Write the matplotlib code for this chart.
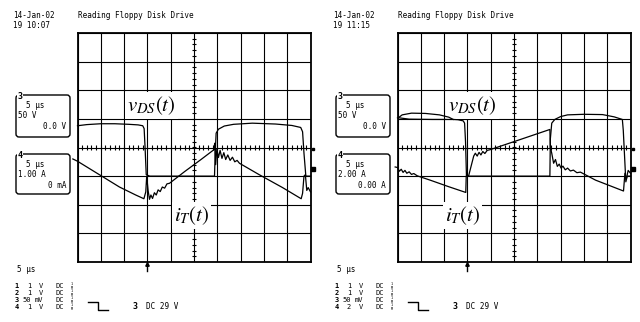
import matplotlib.pyplot as plt
from matplotlib.patches import FancyBboxPatch
import numpy as np

plt.rcParams['mathtext.fontset'] = 'stix'
MONO = 'DejaVu Sans Mono'

# Ecrã do osciloscópio em divisões: x 0..10, y -4..4
# Painel esquerdo (19 10:07)
v1_x = [0.0, 0.4, 1.0, 1.6, 2.2, 2.6, 2.8, 2.86, 2.9, 2.95, 3.1, 4.5, 5.88, 5.91, 5.95,
        6.05, 6.3, 6.7, 7.5, 8.5, 9.2, 9.58, 9.66, 9.72, 9.8, 10.0]
v1_y = [0.76, 0.80, 0.83, 0.83, 0.81, 0.79, 0.76, 0.66, 0.0, -0.95, -1.0, -1.0, -1.0, -0.2, 0.5,
        0.64, 0.75, 0.81, 0.85, 0.82, 0.77, 0.70, 0.55, -0.2, -1.0, -1.0]
i1_x = [-0.2, 0.0, 1.0, 1.8, 2.5, 2.85, 2.93, 2.97, 3.03, 3.09, 3.15, 3.22, 3.3, 3.38, 3.46,
        3.55, 3.64, 3.74, 3.84, 3.95, 4.6, 5.3, 5.85, 5.89, 5.93, 5.98, 6.05, 6.12, 6.2, 6.28,
        6.36, 6.45, 6.55, 6.65, 6.75, 6.85, 6.95, 7.8, 8.8, 9.6, 9.66, 9.72, 9.78, 9.84, 9.9, 10.0]
i1_y = [-0.40, -0.48, -0.98, -1.38, -1.66, -1.79, -1.55, -1.0, -1.5, -1.81, -1.66, -1.78, -1.58,
        -1.66, -1.48, -1.54, -1.38, -1.42, -1.27, -1.25, -0.84, -0.42, -0.08, 0.15, -0.6, -0.05,
        -0.35, -0.1, -0.38, -0.18, -0.42, -0.26, -0.45, -0.34, -0.5, -0.45, -0.55, -0.95, -1.4,
        -1.79, -1.6, -1.0, -0.95, -1.5, -1.4, -1.55]

# Painel direito (19 11:15)
v2_x = [0.0, 0.04, 0.5, 1.5, 2.39, 2.6, 2.82, 2.88, 2.92, 2.96, 3.1, 4.5, 6.54, 6.56, 6.62,
        6.75, 7.0, 7.3, 8.0, 8.8, 9.3, 9.65, 9.69, 9.8, 9.86, 10.0]
v2_y = [1.03, 1.04, 0.99, 0.98, 0.98, 0.97, 0.93, 0.85, 0.2, -1.0, -1.0, -1.0, -1.0, 0.3, 0.85,
        0.98, 1.08, 1.14, 1.16, 1.15, 1.07, 0.98, 0.6, -1.2, -1.0, -1.0]
v2_loop_x = [0.04, 0.2, 0.6, 1.2, 1.8, 2.2, 2.39]
v2_loop_y = [1.04, 1.14, 1.20, 1.19, 1.14, 1.06, 0.98]
i2_x = [-0.1, 0.0, 0.08, 0.16, 0.24, 0.32, 0.4, 0.5, 0.6, 0.7, 0.85, 1.4, 2.2, 2.93, 2.95,
        3.05, 3.27, 3.34, 3.42, 3.5, 3.58, 3.66, 3.75, 3.85, 3.96, 5.2, 6.54, 6.56, 6.62, 6.7,
        6.78, 6.86, 6.94, 7.02, 7.1, 7.2, 7.3, 7.42, 7.55, 7.7, 7.85, 8.5, 9.7, 9.76, 9.82, 9.9, 10.0]
i2_y = [-0.68, -0.70, -0.83, -0.76, -0.87, -0.80, -0.90, -0.85, -0.94, -0.91, -0.99, -1.14,
        -1.37, -1.57, -1.0, -1.0, -0.30, -0.20, -0.30, -0.17, -0.26, -0.14, -0.21, -0.10, -0.08,
        0.26, 0.63, 0.0, -0.2, -0.55, -0.42, -0.66, -0.58, -0.72, -0.65, -0.78, -0.72, -0.82,
        -0.79, -0.88, -0.86, -1.14, -1.52, -0.9, -1.1, -0.8, -0.9]

trig_x = [2.98, 2.97]
labels_v = ['$v_{DS}(t)$', '$v_{DS}(t)$']
labels_i = ['$i_T(t)$', '$i_T(t)$']
datas = ['14-Jan-02', '14-Jan-02']
horas = ['19 10:07', '19 11:15']
titulo = 'Reading Floppy Disk Drive'
box_v = [['5 µs', '50 V', '0.0 V'], ['5 µs', '50 V', '0.0 V']]
box_i = [['5 µs', '1.00 A', '0 mA'], ['5 µs', '2.00 A', '0.00 A']]
canais = ['1', '2', '3', '4']
ampl = [['1', '1', '50', '1'], ['1', '1', '50', '2']]
unid = ['V', 'V', 'mV', 'V']
trig_txt = 'DC 29 V'

W, H = 640, 322
fig = plt.figure(figsize=(W / 100, H / 100), dpi=100)

paineis = [
    dict(x0=77.5, v=(v1_x, v1_y), i=(i1_x, i1_y), loop=None),
    dict(x0=397.5, v=(v2_x, v2_y), i=(i2_x, i2_y), loop=(v2_loop_x, v2_loop_y)),
]
lab_v_pos = [(3.18, 1.47), (3.22, 1.47)]
lab_i_pos = [(4.9, -2.37), (2.79, -2.37)]

for k, p in enumerate(paineis):
    ax = fig.add_axes([p['x0'] / W, (H - 262) / H, 233 / W, 229 / H])
    ax.set_xlim(0, 10)
    ax.set_ylim(-4, 4)
    ax.set_xticks(range(11))
    ax.set_yticks(range(-4, 5))
    ax.tick_params(length=0, labelbottom=False, labelleft=False)
    ax.grid(True, color='black', lw=0.8, zorder=1)
    for s in ax.spines.values():
        s.set_linewidth(1.3)
    # marcas do eixo central
    ax.vlines(np.arange(0.2, 10, 0.2), -0.07, 0.07, color='black', lw=0.8, zorder=1)
    ax.hlines(np.arange(-3.8, 4, 0.2), 4.9, 5.1, color='black', lw=0.8, zorder=1)

    ax.plot(*p['v'], color='black', lw=0.9, zorder=3, clip_on=False)
    if p['loop'] is not None:
        ax.plot(*p['loop'], color='black', lw=0.9, zorder=3)
    ax.plot(*p['i'], color='black', lw=0.9, zorder=3, clip_on=False)

    ax.text(*lab_v_pos[k], labels_v[k], fontsize=15, ha='center', va='center', zorder=2,
            bbox=dict(facecolor='white', edgecolor='none', pad=1.5))
    ax.text(*lab_i_pos[k], labels_i[k], fontsize=15, ha='center', va='center', zorder=2,
            bbox=dict(facecolor='white', edgecolor='none', pad=1.5))

    # trigger e marcadores de canal
    ax.plot([trig_x[k], trig_x[k]], [-4, -4.3], color='black', lw=1, clip_on=False)
    ax.plot(trig_x[k], -4.08, marker='^', ms=2.5, color='black', clip_on=False)
    ax.plot(10.12, -0.05, marker='s', ms=2, color='black', clip_on=False)
    ax.plot(10.12, -0.75, marker='s', ms=3.5, color='black', clip_on=False)

# camada de texto em pixeis
ov = fig.add_axes([0, 0, 1, 1])
ov.set_xlim(0, W)
ov.set_ylim(H, 0)
ov.axis('off')
ov.patch.set_alpha(0)

fs = 5.5
fr = 5
for k, dx in enumerate([0, 320]):
    ov.text(13 + dx, 15, datas[k], family=MONO, fontsize=fs, va='center')
    ov.text(13 + dx, 25, horas[k], family=MONO, fontsize=fs, va='center')
    ov.text(78 + dx, 15, titulo, family=MONO, fontsize=fs, va='center')

    bx0, bx1 = 16 + dx, 70 + dx
    for (yt, yb), txt, ch in [((95, 137), box_v[k], '3'), ((154, 194), box_i[k], '4')]:
        ov.add_patch(FancyBboxPatch((bx0, yt), bx1 - bx0, yb - yt,
                                    boxstyle='round,pad=0,rounding_size=3',
                                    fc='none', ec='black', lw=1))
        ov.text(bx0 + 4, yt + 1, ch, family=MONO, fontsize=6, fontweight='bold',
                ha='center', va='center',
                bbox=dict(facecolor='white', edgecolor='none', pad=0.3))
        ov.text(bx0 + 10, yt + 10, txt[0], family=MONO, fontsize=fs, va='center')
        ov.text(bx0 + 2, yt + 20, txt[1], family=MONO, fontsize=fs, va='center')
        ov.text(bx1 - 4, yt + 31, txt[2], family=MONO, fontsize=fs, va='center', ha='right')

    ov.text(17 + dx, 270, '5 µs', family=MONO, fontsize=fs, va='center')
    for r, yy in enumerate([286, 293, 300, 307]):
        ov.text(16.5 + dx, yy, canais[r], family=MONO, fontsize=fr, fontweight='bold',
                ha='center', va='center')
        ov.text(31 + dx, yy, ampl[k][r], family=MONO, fontsize=fr, ha='right', va='center')
        ov.text(43 + dx, yy, unid[r], family=MONO, fontsize=fr, ha='right', va='center')
        ov.text(55 + dx, yy, 'DC', family=MONO, fontsize=fr, va='center')
        ov.text(72 + dx, yy, '1\nM', family=MONO, fontsize=2.4, ha='center', va='center',
                linespacing=0.8)

    ov.plot([88 + dx, 98 + dx, 98 + dx, 108 + dx], [301.5, 301.5, 310, 310],
            color='black', lw=1)
    ov.text(135 + dx, 306.5, '3', family=MONO, fontsize=6, fontweight='bold',
            ha='center', va='center')
    ov.text(146 + dx, 306.5, trig_txt, family=MONO, fontsize=fs, va='center')

fig.savefig('out.png', dpi=100, facecolor='white')
